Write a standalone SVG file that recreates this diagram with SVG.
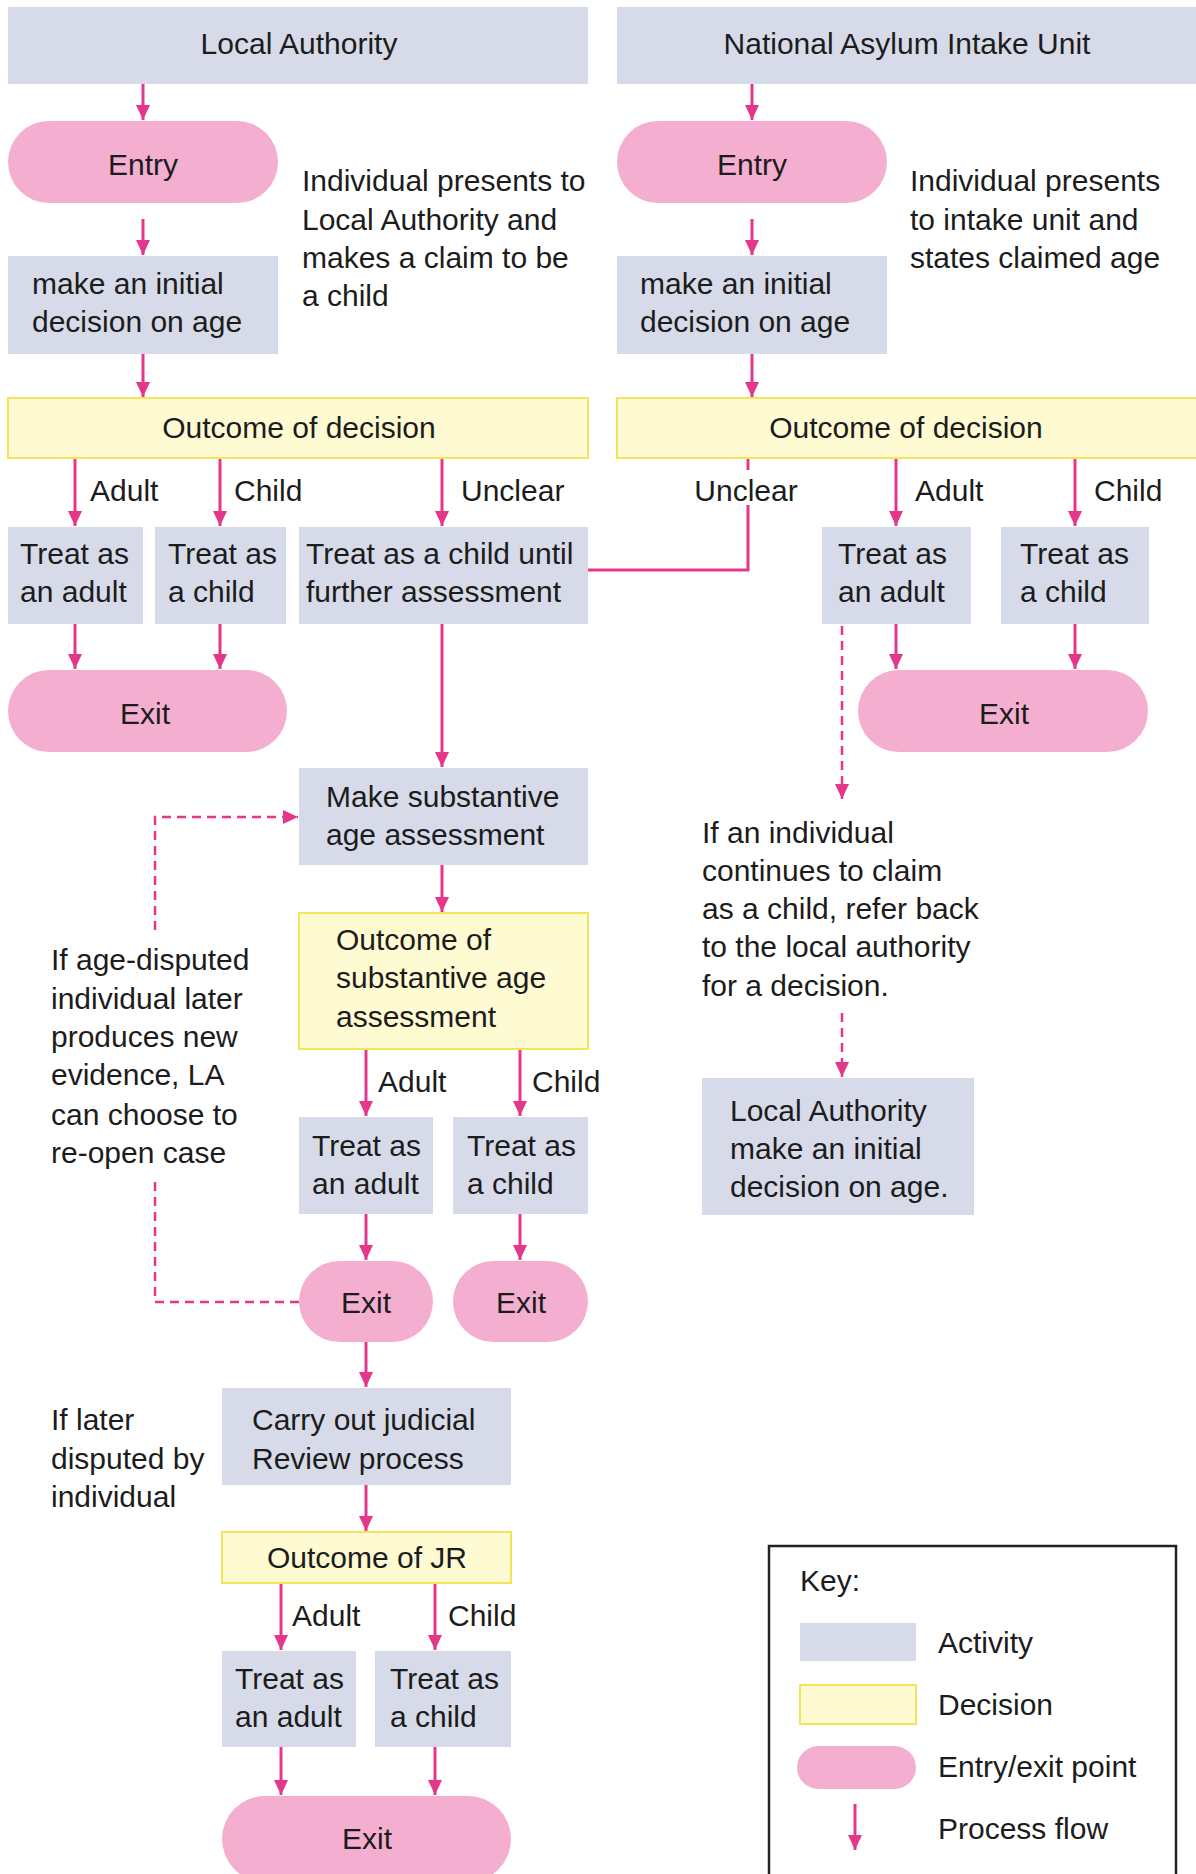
<svg xmlns="http://www.w3.org/2000/svg" width="1196" height="1874" viewBox="0 0 1196 1874">
<style>
text { font-family: "Liberation Sans", Arial, sans-serif; font-size: 30px; fill: #1c1c1c; }
.act { fill: #d7dae8; }
.dec { fill: #fefad2; stroke: #f3e55a; stroke-width: 2; }
.pill { fill: #f4afd0; }
.c { text-anchor: middle; }
.flow { stroke: #e4378a; stroke-width: 3; fill: none; }
.dash { stroke: #e4378a; stroke-width: 2.5; fill: none; stroke-dasharray: 9 6; }
</style>
<defs>
<marker id="ah" markerUnits="userSpaceOnUse" markerWidth="16" markerHeight="16" viewBox="0 0 16 16" refX="15" refY="8" orient="auto">
<path d="M0,1 L15,8 L0,15 z" fill="#e4378a"/>
</marker>
</defs>
<rect width="1196" height="1874" fill="#ffffff"/>

<g id="connectors">
<line class="flow" x1="143" y1="84" x2="143" y2="120" marker-end="url(#ah)"/>
<line class="flow" x1="752" y1="84" x2="752" y2="120" marker-end="url(#ah)"/>
<line class="flow" x1="143" y1="219" x2="143" y2="255" marker-end="url(#ah)"/>
<line class="flow" x1="752" y1="219" x2="752" y2="255" marker-end="url(#ah)"/>
<line class="flow" x1="143" y1="354" x2="143" y2="397" marker-end="url(#ah)"/>
<line class="flow" x1="752" y1="354" x2="752" y2="397" marker-end="url(#ah)"/>
<line class="flow" x1="75" y1="459" x2="75" y2="526" marker-end="url(#ah)"/>
<line class="flow" x1="220" y1="459" x2="220" y2="526" marker-end="url(#ah)"/>
<line class="flow" x1="442" y1="459" x2="442" y2="526" marker-end="url(#ah)"/>
<line class="flow" x1="896" y1="459" x2="896" y2="526" marker-end="url(#ah)"/>
<line class="flow" x1="1075" y1="459" x2="1075" y2="526" marker-end="url(#ah)"/>
<line class="flow" x1="748" y1="459" x2="748" y2="470"/>
<path class="flow" d="M588,570 H748 V505"/>
<line class="flow" x1="75" y1="624" x2="75" y2="669" marker-end="url(#ah)"/>
<line class="flow" x1="220" y1="624" x2="220" y2="669" marker-end="url(#ah)"/>
<line class="flow" x1="896" y1="624" x2="896" y2="669" marker-end="url(#ah)"/>
<line class="flow" x1="1075" y1="624" x2="1075" y2="669" marker-end="url(#ah)"/>
<line class="flow" x1="442" y1="624" x2="442" y2="767" marker-end="url(#ah)"/>
<line class="dash" x1="842" y1="626" x2="842" y2="799" marker-end="url(#ah)"/>
<line class="dash" x1="842" y1="1013" x2="842" y2="1077" marker-end="url(#ah)"/>
<line class="flow" x1="442" y1="865" x2="442" y2="912" marker-end="url(#ah)"/>
<line class="flow" x1="366" y1="1049" x2="366" y2="1116" marker-end="url(#ah)"/>
<line class="flow" x1="520" y1="1049" x2="520" y2="1116" marker-end="url(#ah)"/>
<line class="flow" x1="366" y1="1214" x2="366" y2="1260" marker-end="url(#ah)"/>
<line class="flow" x1="520" y1="1214" x2="520" y2="1260" marker-end="url(#ah)"/>
<path class="dash" d="M299,1302 H155 V1177"/>
<path class="dash" d="M155,930 V817 H298" marker-end="url(#ah)"/>
<line class="flow" x1="366" y1="1342" x2="366" y2="1387" marker-end="url(#ah)"/>
<line class="flow" x1="366" y1="1485" x2="366" y2="1531" marker-end="url(#ah)"/>
<line class="flow" x1="281" y1="1583" x2="281" y2="1650" marker-end="url(#ah)"/>
<line class="flow" x1="435" y1="1583" x2="435" y2="1650" marker-end="url(#ah)"/>
<line class="flow" x1="281" y1="1747" x2="281" y2="1795" marker-end="url(#ah)"/>
<line class="flow" x1="435" y1="1747" x2="435" y2="1795" marker-end="url(#ah)"/>
</g>

<g id="la-header"><rect class="act" x="8" y="7" width="580" height="77"/><text class="c" x="299" y="54">Local Authority</text></g>
<g id="naiu-header"><rect class="act" x="617" y="7" width="585" height="77"/><text class="c" x="907" y="54">National Asylum Intake Unit</text></g>

<g id="la-entry"><rect class="pill" x="8" y="121" width="270" height="82" rx="41"/><text class="c" x="143" y="175">Entry</text></g>
<g id="naiu-entry"><rect class="pill" x="617" y="121" width="270" height="82" rx="41"/><text class="c" x="752" y="175">Entry</text></g>

<g id="la-initial"><rect class="act" x="8" y="256" width="270" height="98"/><text x="32" y="294">make an initial</text><text x="32" y="332">decision on age</text></g>
<g id="naiu-initial"><rect class="act" x="617" y="256" width="270" height="98"/><text x="640" y="294">make an initial</text><text x="640" y="332">decision on age</text></g>

<g id="la-note"><text x="302" y="191">Individual presents to</text><text x="302" y="230">Local Authority and</text><text x="302" y="268">makes a claim to be</text><text x="302" y="306">a child</text></g>
<g id="naiu-note"><text x="910" y="191">Individual presents</text><text x="910" y="230">to intake unit and</text><text x="910" y="268">states claimed age</text></g>

<g id="la-outcome"><rect class="dec" x="8" y="398" width="580" height="60"/><text class="c" x="299" y="438">Outcome of decision</text></g>
<g id="naiu-outcome"><rect class="dec" x="617" y="398" width="590" height="60"/><text class="c" x="906" y="438">Outcome of decision</text></g>

<g id="labels-row1">
<text x="90" y="501">Adult</text><text x="234" y="501">Child</text><text x="461" y="501">Unclear</text>
<text class="c" x="746" y="501">Unclear</text><text x="915" y="501">Adult</text><text x="1094" y="501">Child</text>
</g>

<g id="la-adult"><rect class="act" x="8" y="527" width="135" height="97"/><text x="20" y="564">Treat as</text><text x="20" y="602">an adult</text></g>
<g id="la-child"><rect class="act" x="155" y="527" width="131" height="97"/><text x="168" y="564">Treat as</text><text x="168" y="602">a child</text></g>
<g id="la-unclear"><rect class="act" x="299" y="527" width="289" height="97"/><text x="306" y="564">Treat as a child until</text><text x="306" y="602">further assessment</text></g>
<g id="naiu-adult"><rect class="act" x="822" y="527" width="149" height="97"/><text x="838" y="564">Treat as</text><text x="838" y="602">an adult</text></g>
<g id="naiu-child"><rect class="act" x="1001" y="527" width="148" height="97"/><text x="1020" y="564">Treat as</text><text x="1020" y="602">a child</text></g>

<g id="la-exit"><rect class="pill" x="8" y="670" width="279" height="82" rx="41"/><text class="c" x="145" y="724">Exit</text></g>
<g id="naiu-exit"><rect class="pill" x="858" y="670" width="290" height="82" rx="41"/><text class="c" x="1004" y="724">Exit</text></g>

<g id="naiu-note2"><text x="702" y="843">If an individual</text><text x="702" y="881">continues to claim</text><text x="702" y="919">as a child, refer back</text><text x="702" y="957">to the local authority</text><text x="702" y="996">for a decision.</text></g>
<g id="la-refer"><rect class="act" x="702" y="1078" width="272" height="137"/><text x="730" y="1121">Local Authority</text><text x="730" y="1159">make an initial</text><text x="730" y="1197">decision on age.</text></g>

<g id="substantive"><rect class="act" x="299" y="768" width="289" height="97"/><text x="326" y="807">Make substantive</text><text x="326" y="845">age assessment</text></g>
<g id="substantive-outcome"><rect class="dec" x="299" y="913" width="289" height="136"/><text x="336" y="950">Outcome of</text><text x="336" y="988">substantive age</text><text x="336" y="1027">assessment</text></g>
<g id="labels-row2"><text x="378" y="1092">Adult</text><text x="532" y="1092">Child</text></g>
<g id="sub-adult"><rect class="act" x="299" y="1117" width="134" height="97"/><text x="312" y="1156">Treat as</text><text x="312" y="1194">an adult</text></g>
<g id="sub-child"><rect class="act" x="453" y="1117" width="135" height="97"/><text x="467" y="1156">Treat as</text><text x="467" y="1194">a child</text></g>
<g id="sub-exit-adult"><rect class="pill" x="299" y="1261" width="134" height="81" rx="40.5"/><text class="c" x="366" y="1313">Exit</text></g>
<g id="sub-exit-child"><rect class="pill" x="453" y="1261" width="135" height="81" rx="40.5"/><text class="c" x="521" y="1313">Exit</text></g>

<g id="reopen-note"><text x="51" y="970">If age-disputed</text><text x="51" y="1009">individual later</text><text x="51" y="1047">produces new</text><text x="51" y="1085">evidence, LA</text><text x="51" y="1125">can choose to</text><text x="51" y="1163">re-open case</text></g>

<g id="jr"><rect class="act" x="222" y="1388" width="289" height="97"/><text x="252" y="1430">Carry out judicial</text><text x="252" y="1469">Review process</text></g>
<g id="jr-note"><text x="51" y="1430">If later</text><text x="51" y="1469">disputed by</text><text x="51" y="1507">individual</text></g>
<g id="jr-outcome"><rect class="dec" x="222" y="1532" width="289" height="51"/><text class="c" x="367" y="1568">Outcome of JR</text></g>
<g id="labels-row3"><text x="292" y="1626">Adult</text><text x="448" y="1626">Child</text></g>
<g id="jr-adult"><rect class="act" x="222" y="1651" width="134" height="96"/><text x="235" y="1689">Treat as</text><text x="235" y="1727">an adult</text></g>
<g id="jr-child"><rect class="act" x="375" y="1651" width="136" height="96"/><text x="390" y="1689">Treat as</text><text x="390" y="1727">a child</text></g>
<g id="jr-exit"><rect class="pill" x="222" y="1796" width="289" height="86" rx="43"/><text class="c" x="367" y="1849">Exit</text></g>

<g id="key">
<rect x="769" y="1546" width="407" height="345" fill="none" stroke="#222" stroke-width="2.5"/>
<text x="800" y="1591">Key:</text>
<rect class="act" x="800" y="1623" width="116" height="38"/><text x="938" y="1653">Activity</text>
<rect class="dec" x="800" y="1685" width="116" height="39"/><text x="938" y="1715">Decision</text>
<rect class="pill" x="797" y="1746" width="119" height="43" rx="21.5"/><text x="938" y="1777">Entry/exit point</text>
<line class="flow" x1="855" y1="1804" x2="855" y2="1850" marker-end="url(#ah)"/><text x="938" y="1839">Process flow</text>
</g>
</svg>
